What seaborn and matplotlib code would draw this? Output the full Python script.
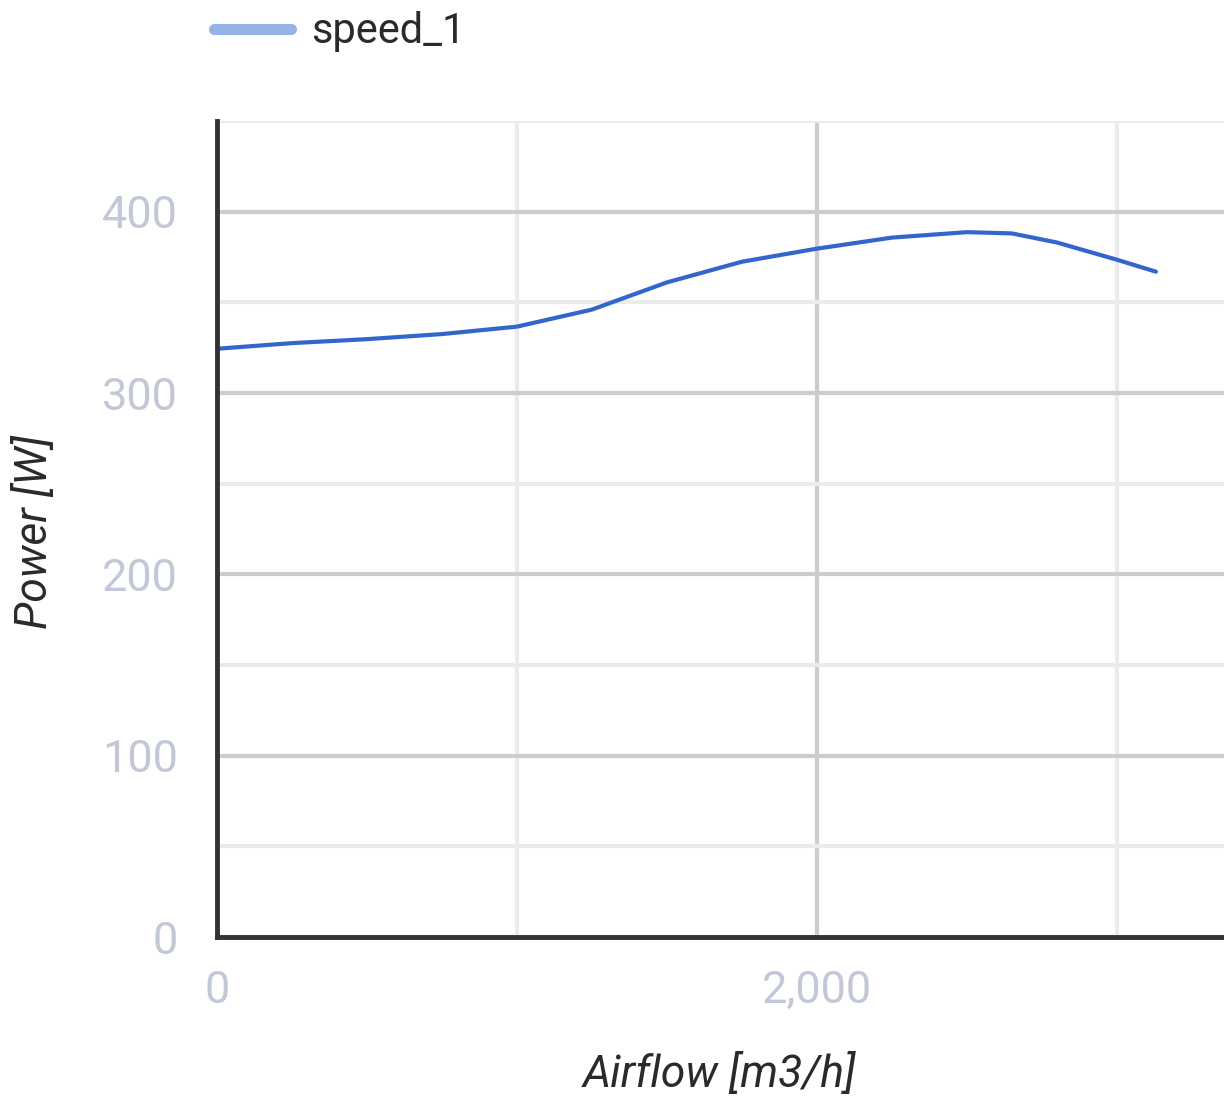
import matplotlib
matplotlib.use("Agg")
import matplotlib.pyplot as plt
from matplotlib.ticker import MultipleLocator, FixedLocator
import seaborn as sns
import pandas as pd

# values
airflow = [0, 250, 500, 750, 1000, 1250, 1500, 1750, 2000, 2250, 2500, 2650, 2800, 3000, 3130]
power = [324.4, 327.5, 329.7, 332.5, 336.6, 346.0, 361.0, 372.4, 379.6, 385.7, 388.7, 388.0, 383.0, 373.5, 366.9]
series_name = "speed_1"
x_ticks = [0, 2000]
x_tick_labels = ["0", "2,000"]
y_ticks = [0, 100, 200, 300, 400]

LINE_COLOR = "#3366cc"
TICK_COLOR = "#c3c8d8"
TEXT_COLOR = "#2a2a2a"

df = pd.DataFrame({"Airflow": airflow, "Power": power, "series": series_name})

sns.set_theme(style="white")
plt.rcParams["font.family"] = ["Roboto", "DejaVu Sans"]

fig = plt.figure(figsize=(12.24, 11.04), dpi=100)
ax = fig.add_axes([217 / 1224, 1 - 937 / 1104, 1 - 217 / 1224, (937 - 121) / 1104])

sns.lineplot(data=df, x="Airflow", y="Power", color=LINE_COLOR, linewidth=3,
             ax=ax, legend=False)

ax.set_xlim(0, 3357)
ax.set_ylim(0, 450)

# gridlines: major darker, minor lighter
ax.xaxis.set_major_locator(FixedLocator(x_ticks))
ax.xaxis.set_minor_locator(FixedLocator([1000, 3000]))
ax.yaxis.set_major_locator(FixedLocator(y_ticks))
ax.yaxis.set_minor_locator(MultipleLocator(50))
ax.grid(True, which="major", color="#cccccc", linewidth=3)
ax.grid(True, which="minor", color="#ebebeb", linewidth=3)
ax.set_axisbelow(True)
ax.set_xticklabels(x_tick_labels)

ax.tick_params(axis="both", which="both", length=0, labelsize=32.5, labelcolor=TICK_COLOR)
ax.tick_params(axis="x", pad=24)
ax.tick_params(axis="y", pad=28)

for side in ["top", "right"]:
    ax.spines[side].set_visible(False)
for side in ["left", "bottom"]:
    ax.spines[side].set_color("#333333")
    ax.spines[side].set_linewidth(3.5)

ax.set_xlabel("Airflow [m3/h]", fontsize=32, style="italic", color=TEXT_COLOR)
ax.xaxis.set_label_coords((720 - 217) / (1224 - 217), -(1075 - 937) / (937 - 121))
ax.set_ylabel("Power [W]", fontsize=32, style="italic", color=TEXT_COLOR)
ax.yaxis.set_label_coords(-(217 - 35) / (1224 - 217), (937 - 532) / (937 - 121))
ax.xaxis.label.set_va("center")
ax.yaxis.label.set_va("center")

# legend at top
legend_line = plt.Line2D([], [], color="#97b2e6", linewidth=8)
fig.legend([legend_line], [series_name], loc="center left",
           bbox_to_anchor=(176 / 1224, 1 - 32 / 1104),
           frameon=False, fontsize=30, handlelength=1.85, handletextpad=0.5,
           labelcolor=TEXT_COLOR)

fig.savefig("out.png", dpi=100)
